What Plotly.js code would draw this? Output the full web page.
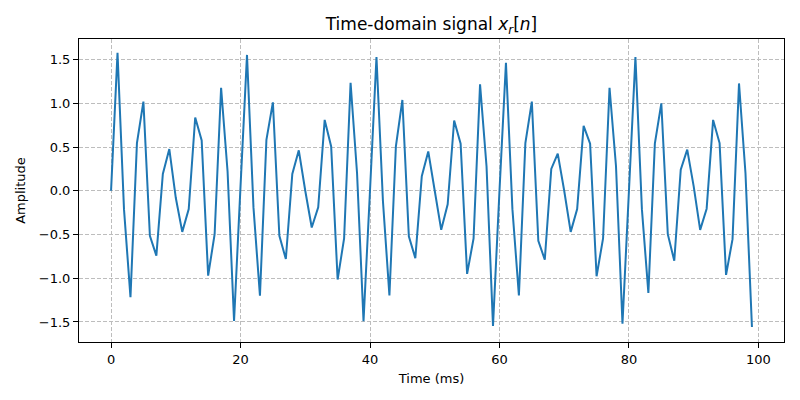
<!DOCTYPE html>
<html>
<head>
<meta charset="utf-8">
<script src="https://cdn.plot.ly/plotly-3.0.1.min.js"></script>
<style>html,body{margin:0;padding:0;background:#fff;}#chart{width:800px;height:400px;}</style>
</head>
<body>
<div id="chart"></div>
<script>
const timeMs = Array.from({length: 100}, (_, i) => i);
const amplitude = [
  0.0, 1.576, -0.21, -1.216, 0.545, 1.019, -0.515, -0.742, 0.193, 0.477,
  -0.08, -0.47, -0.21, 0.837, 0.576, -0.97, -0.496, 1.178, 0.22, -1.489,
  0.05, 1.553, -0.19, -1.2, 0.583, 1.01, -0.515, -0.78, 0.193, 0.462,
  0.0, -0.42, -0.19, 0.81, 0.507, -1.015, -0.545, 1.235, 0.2, -1.49,
  0.0, 1.53, -0.12, -1.197, 0.508, 1.038, -0.52, -0.77, 0.167, 0.45,
  0.0, -0.447, -0.155, 0.803, 0.538, -0.95, -0.545, 1.216, 0.28, -1.545,
  0.0, 1.462, -0.21, -1.197, 0.545, 1.019, -0.572, -0.788, 0.25, 0.424,
  0.0, -0.47, -0.21, 0.742, 0.538, -0.977, -0.545, 1.178, 0.28, -1.52,
  0.0, 1.53, -0.21, -1.167, 0.538, 1.0, -0.496, -0.8, 0.242, 0.47,
  0.05, -0.447, -0.205, 0.81, 0.545, -0.962, -0.553, 1.227, 0.2, -1.557
];
const xTicks = [0, 20, 40, 60, 80, 100];
const yTicks = [-1.5, -1.0, -0.5, 0.0, 0.5, 1.0, 1.5];

const font = 'DejaVu Sans, sans-serif';
const trace = {
  x: timeMs, y: amplitude, type: 'scatter', mode: 'lines',
  line: {color: '#1f77b4', width: 2}, hoverinfo: 'skip'
};
const axisCommon = {
  showline: true, linecolor: '#000', linewidth: 1, mirror: true,
  ticks: 'outside', ticklen: 5, tickcolor: '#000', tickwidth: 1,
  showgrid: true, gridcolor: '#bdbdbd', griddash: '4px,2px', gridwidth: 1,
  zeroline: false, tickfont: {family: font, size: 13, color: '#000'}
};
const layout = {
  width: 800, height: 400,
  margin: {l: 79, r: 16, t: 39, b: 58},
  paper_bgcolor: '#fff', plot_bgcolor: '#fff',
  showlegend: false,
  title: {text: 'Time-domain signal <i>x</i><sub><i>r</i></sub>[<i>n</i>]', font: {family: font, size: 17, color: '#000'},
    xref: 'paper', x: 0.5, xanchor: 'center', yref: 'container', y: 0.94, yanchor: 'middle'},
  xaxis: Object.assign({}, axisCommon, {
    range: [-4.95, 103.95], tickvals: xTicks, ticktext: xTicks.map(String),
    title: {text: 'Time (ms)', font: {family: font, size: 13, color: '#000'}, standoff: 8}
  }),
  yaxis: Object.assign({}, axisCommon, {
    range: [-1.729, 1.735], tickvals: yTicks, ticktext: yTicks.map(v => (v < 0 ? '\u2212' : '') + Math.abs(v).toFixed(1)),
    title: {text: 'Amplitude', font: {family: font, size: 13, color: '#000'}, standoff: 10}
  })
};
Plotly.newPlot('chart', [trace], layout, {staticPlot: true, displayModeBar: false});
</script>
</body>
</html>
